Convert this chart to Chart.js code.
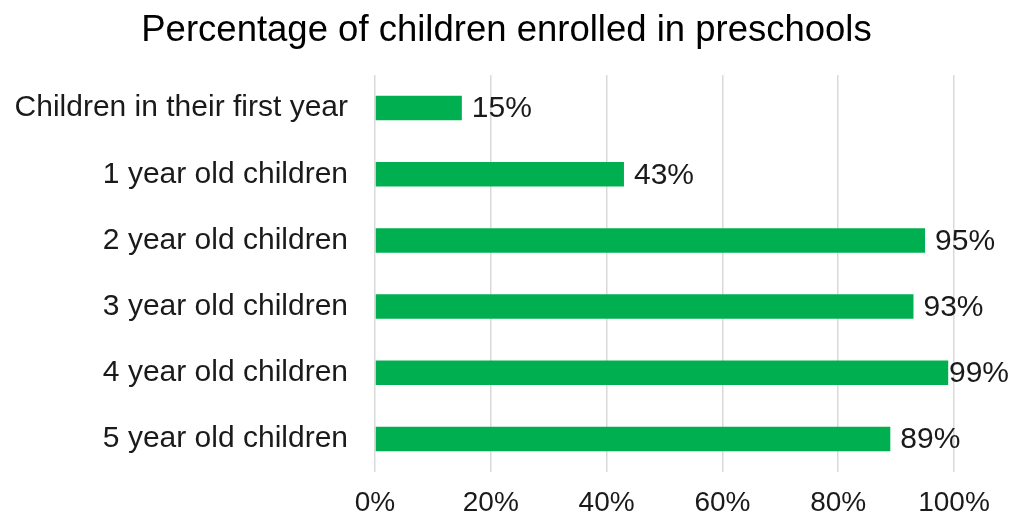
<!DOCTYPE html>
<html>
<head>
<meta charset="utf-8">
<script src="https://cdn.jsdelivr.net/npm/chart.js@4"></script>
<style>
  html, body { margin: 0; padding: 0; background: #fff; }
  #wrap { width: 1011px; height: 520px; }
</style>
</head>
<body>
<div id="wrap"><canvas id="chart"></canvas></div>
<script>
// chart data
const categories = [
  'Children in their first year',
  '1 year old children',
  '2 year old children',
  '3 year old children',
  '4 year old children',
  '5 year old children'
];
const enrolled = [15, 43, 95, 93, 99, 89];
const xTicks = [0, 20, 40, 60, 80, 100];
const chartTitle = 'Percentage of children enrolled in preschools';

const FONT = '"Liberation Sans", Arial, sans-serif';
const TEXT = '#1a1a1a';

// title centred on the whole canvas (layout padding would shift the built-in one)
const centredTitle = {
  id: 'centredTitle',
  afterDraw(chart) {
    const ctx = chart.ctx;
    ctx.save();
    ctx.font = '36.5px ' + FONT;
    ctx.fillStyle = '#000';
    ctx.textAlign = 'center';
    ctx.textBaseline = 'middle';
    ctx.fillText(chartTitle, chart.width / 2 + 1, 31);
    ctx.restore();
  }
};

// draws "NN%" right of each bar, kept inside the canvas
const barLabels = {
  id: 'barLabels',
  afterDatasetsDraw(chart) {
    const ctx = chart.ctx;
    const meta = chart.getDatasetMeta(0);
    ctx.save();
    ctx.font = '30px ' + FONT;
    ctx.fillStyle = TEXT;
    ctx.textBaseline = 'middle';
    meta.data.forEach((bar, i) => {
      const txt = enrolled[i] + '%';
      const w = ctx.measureText(txt).width;
      let x = bar.x + 10;
      if (x + w > chart.width - 2) x = chart.width - 2 - w;
      ctx.fillText(txt, x, bar.y + 1);
    });
    ctx.restore();
  }
};

new Chart(document.getElementById('chart'), {
  type: 'bar',
  data: {
    labels: categories,
    datasets: [{
      data: enrolled,
      backgroundColor: '#00b050',
      categoryPercentage: 1,
      barPercentage: 0.37
    }]
  },
  options: {
    indexAxis: 'y',
    responsive: true,
    maintainAspectRatio: false,
    animation: false,
    layout: { padding: { left: 0, right: 57, top: 75, bottom: 0 } },
    plugins: {
      legend: { display: false },
      tooltip: { enabled: false },
      title: { display: false }
    },
    scales: {
      x: {
        min: 0,
        max: 100,
        afterBuildTicks: (scale) => { scale.ticks = xTicks.map(v => ({ value: v })); },
        afterFit: (scale) => { scale.height = 48; },
        border: { display: false },
        grid: { color: '#d9d9d9', lineWidth: 1.5, drawTicks: false },
        ticks: {
          padding: 14,
          color: TEXT,
          font: { family: FONT, size: 28 },
          callback: (v) => v + '%'
        }
      },
      y: {
        afterFit: (scale) => { scale.width = 375; },
        border: { display: false },
        grid: { display: false, drawTicks: false },
        ticks: {
          padding: 27,
          color: TEXT,
          font: { family: FONT, size: 30 }
        }
      }
    }
  },
  plugins: [barLabels, centredTitle]
});
</script>
</body>
</html>
